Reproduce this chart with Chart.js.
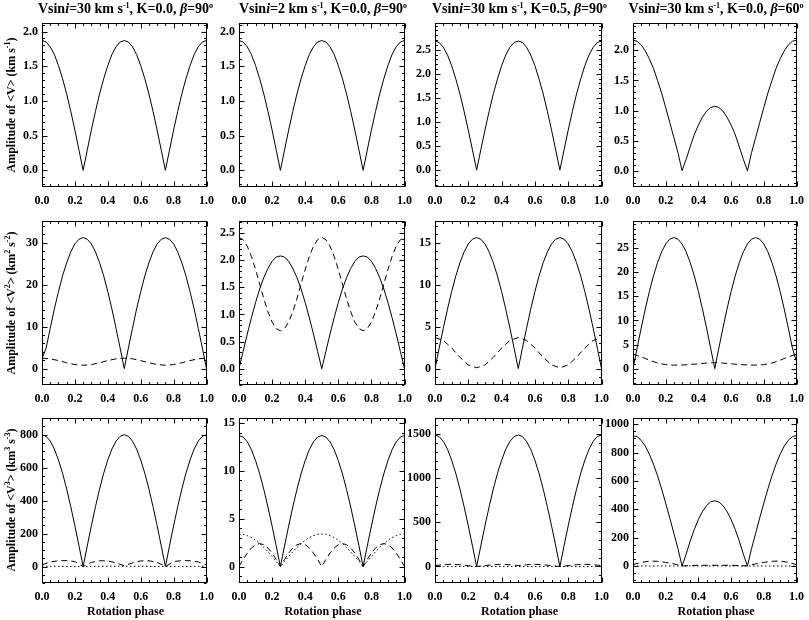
<!DOCTYPE html>
<html lang="en">
<head>
  <meta charset="UTF-8">
  <title>Amplitude of moments vs rotation phase</title>
  <script src="https://cdn.jsdelivr.net/npm/chart.js"></script>
  <style>
    body {
      margin: 0;
      background: #ffffff;
      font-family: 'Liberation Serif', 'DejaVu Serif', serif;
      color: #000000;
    }

    #fig {
      position: relative;
      width: 809px;
      height: 620px;
      overflow: hidden;
    }

    #fig canvas { position: absolute; }

    .title {
      position: absolute;
      top: 0;
      width: 240px;
      line-height: 18px;
      text-align: center;
      font-weight: bold;
      font-size: 14px;
      white-space: nowrap;
    }

    .ylab {
      position: absolute;
      width: 200px;
      line-height: 14px;
      text-align: center;
      font-weight: bold;
      font-size: 12px;
      white-space: nowrap;
      transform: rotate(-90deg);
    }

    .xlab {
      position: absolute;
      top: 604px;
      width: 170px;
      line-height: 14px;
      text-align: center;
      font-weight: bold;
      font-size: 12px;
    }

    sup {
      font-size: 8px;
      vertical-align: 0;
      position: relative;
      top: -5px;
    }
  </style>
</head>
<body>

  <div id="fig"></div>

  <script>
    // phase grids
    const phaseFine = [0, 0.025, 0.05, 0.075, 0.1, 0.125, 0.15, 0.175, 0.2, 0.225, 0.25, 0.275, 0.3, 0.325, 0.35, 0.375, 0.4, 0.425, 0.45, 0.475, 0.5,
      0.525, 0.55, 0.575, 0.6, 0.625, 0.65, 0.675, 0.7, 0.725, 0.75, 0.775, 0.8, 0.825, 0.85, 0.875, 0.9, 0.925, 0.95, 0.975, 1];
    const phaseCoarse = [0, 0.05, 0.1, 0.15, 0.2, 0.25, 0.3, 0.35, 0.4, 0.45, 0.5, 0.55, 0.6, 0.65, 0.7, 0.75, 0.8, 0.85, 0.9, 0.95, 1];
    const phaseTicks = [0, 0.2, 0.4, 0.6, 0.8, 1.0];

    // row 1: <V>
    const v1Solid = [1.87, 1.85, 1.78, 1.67, 1.51, 1.32, 1.10, 0.85, 0.58, 0.29, 0.00, 0.29, 0.58, 0.85, 1.10, 1.32, 1.51, 1.67, 1.78, 1.85, 1.87,
      1.85, 1.78, 1.67, 1.51, 1.32, 1.10, 0.85, 0.58, 0.29, 0.00, 0.29, 0.58, 0.85, 1.10, 1.32, 1.51, 1.67, 1.78, 1.85, 1.87];
    const v2Solid = [1.87, 1.85, 1.78, 1.67, 1.51, 1.32, 1.10, 0.85, 0.58, 0.29, 0.00, 0.29, 0.58, 0.85, 1.10, 1.32, 1.51, 1.67, 1.78, 1.85, 1.87,
      1.85, 1.78, 1.67, 1.51, 1.32, 1.10, 0.85, 0.58, 0.29, 0.00, 0.29, 0.58, 0.85, 1.10, 1.32, 1.51, 1.67, 1.78, 1.85, 1.87];
    const v3Solid = [2.68, 2.65, 2.55, 2.39, 2.17, 1.89, 1.58, 1.22, 0.83, 0.42, 0.00, 0.42, 0.83, 1.22, 1.58, 1.89, 2.17, 2.39, 2.55, 2.65, 2.68,
      2.65, 2.55, 2.39, 2.17, 1.89, 1.58, 1.22, 0.83, 0.42, 0.00, 0.42, 0.83, 1.22, 1.58, 1.89, 2.17, 2.39, 2.55, 2.65, 2.68];
    const v4Solid = [2.17, 2.15, 2.09, 1.99, 1.86, 1.70, 1.50, 1.29, 1.05, 0.80, 0.55, 0.30, 0.00, 0.19, 0.40, 0.60, 0.76, 0.89, 0.99, 1.05, 1.07,
      1.05, 0.99, 0.89, 0.76, 0.60, 0.40, 0.19, 0.00, 0.30, 0.55, 0.80, 1.05, 1.29, 1.50, 1.70, 1.86, 1.99, 2.09, 2.15, 2.17];

    // row 2: <V^2>
    const w1Solid = [2.4, 4.9, 9.6, 14.2, 18.3, 22.1, 25.2, 27.8, 29.7, 30.8, 31.2, 30.8, 29.7, 27.8, 25.2, 22.1, 18.3, 14.2, 9.6, 4.9, 0.0,
      4.9, 9.6, 14.2, 18.3, 22.1, 25.2, 27.8, 29.7, 30.8, 31.2, 30.8, 29.7, 27.8, 25.2, 22.1, 18.3, 14.2, 9.6, 4.9, 0.0];
    const w1Dash = [2.5, 2.34, 1.91, 1.39, 0.96, 0.80, 0.96, 1.39, 1.91, 2.34, 2.5, 2.34, 1.91, 1.39, 0.96, 0.80, 0.96, 1.39, 1.91, 2.34, 2.5];
    const w2Solid = [0.00, 0.32, 0.64, 0.94, 1.22, 1.47, 1.68, 1.85, 1.98, 2.06, 2.08, 2.06, 1.98, 1.85, 1.68, 1.47, 1.22, 0.94, 0.64, 0.32, 0.00,
      0.32, 0.64, 0.94, 1.22, 1.47, 1.68, 1.85, 1.98, 2.06, 2.08, 2.06, 1.98, 1.85, 1.68, 1.47, 1.22, 0.94, 0.64, 0.32, 0.00];
    const w2Dash = [2.42, 2.38, 2.26, 2.07, 1.83, 1.56, 1.29, 1.05, 0.86, 0.74, 0.70, 0.74, 0.86, 1.05, 1.29, 1.56, 1.83, 2.07, 2.26, 2.38, 2.42,
      2.38, 2.26, 2.07, 1.83, 1.56, 1.29, 1.05, 0.86, 0.74, 0.70, 0.74, 0.86, 1.05, 1.29, 1.56, 1.83, 2.07, 2.26, 2.38, 2.42];
    const w3Solid = [0.0, 2.44, 4.82, 7.08, 9.17, 11.03, 12.62, 13.90, 14.84, 15.41, 15.6, 15.41, 14.84, 13.90, 12.62, 11.03, 9.17, 7.08, 4.82, 2.44, 0.0,
      2.44, 4.82, 7.08, 9.17, 11.03, 12.62, 13.90, 14.84, 15.41, 15.6, 15.41, 14.84, 13.90, 12.62, 11.03, 9.17, 7.08, 4.82, 2.44, 0.0];
    const w3Dash = [3.70, 3.36, 2.46, 1.34, 0.44, 0.10, 0.44, 1.34, 2.46, 3.36, 3.70, 3.36, 2.46, 1.34, 0.44, 0.10, 0.44, 1.34, 2.46, 3.36, 3.70];
    const w4Solid = [0.0, 4.25, 8.41, 12.35, 16.0, 19.23, 22.0, 24.24, 25.87, 26.87, 27.2, 26.87, 25.87, 24.24, 22.0, 19.23, 16.0, 12.35, 8.41, 4.25, 0.0,
      4.25, 8.41, 12.35, 16.0, 19.23, 22.0, 24.24, 25.87, 26.87, 27.2, 26.87, 25.87, 24.24, 22.0, 19.23, 16.0, 12.35, 8.41, 4.25, 1.5];
    const w4Dash = [3.0, 2.45, 1.75, 1.15, 0.82, 0.72, 0.75, 0.85, 1.0, 1.15, 1.25, 1.15, 1.0, 0.85, 0.75, 0.72, 0.82, 1.15, 1.75, 2.45, 3.0];

    // row 3: <V^3>
    const u1Solid = [800, 790, 761, 713, 647, 566, 470, 363, 247, 125, 0, 125, 247, 363, 470, 566, 647, 713, 761, 790, 800,
      790, 761, 713, 647, 566, 470, 363, 247, 125, 0, 125, 247, 363, 470, 566, 647, 713, 761, 790, 800];
    const u1Dash = [10, 28, 35, 36, 30, 0, 25, 35, 34, 22, 5, 22, 34, 35, 25, 0, 30, 36, 35, 28, 10];
    const u1Dot = [2, 1, 1, 0, 0, 0, 0, 1, 2, 2, 2, 2, 2, 1, 0, 0, 0, 0, 1, 1, 2];
    const u2Solid = [13.7, 13.53, 13.03, 12.21, 11.08, 9.69, 8.05, 6.22, 4.23, 2.14, 0.0, 2.14, 4.23, 6.22, 8.05, 9.69, 11.08, 12.21, 13.03, 13.53, 13.7,
      13.53, 13.03, 12.21, 11.08, 9.69, 8.05, 6.22, 4.23, 2.14, 0.0, 2.14, 4.23, 6.22, 8.05, 9.69, 11.08, 12.21, 13.03, 13.53, 13.7];
    const u2Dash = [0.0, 0.74, 1.41, 1.94, 2.28, 2.40, 2.28, 1.94, 1.41, 0.74, 0.0, 0.74, 1.41, 1.94, 2.28, 2.40, 2.28, 1.94, 1.41, 0.74, 0.0,
      0.74, 1.41, 1.94, 2.28, 2.40, 2.28, 1.94, 1.41, 0.74, 0.0, 0.74, 1.41, 1.94, 2.28, 2.40, 2.28, 1.94, 1.41, 0.74, 0.0];
    const u2Dot = [3.40, 3.36, 3.23, 3.03, 2.75, 2.40, 2.00, 1.54, 1.05, 0.53, 0.00, 0.53, 1.05, 1.54, 2.00, 2.40, 2.75, 3.03, 3.23, 3.36, 3.40,
      3.36, 3.23, 3.03, 2.75, 2.40, 2.00, 1.54, 1.05, 0.53, 0.00, 0.53, 1.05, 1.54, 2.00, 2.40, 2.75, 3.03, 3.23, 3.36, 3.40];
    const u3Solid = [1490, 1472, 1417, 1328, 1205, 1054, 876, 676, 460, 233, 0, 233, 460, 676, 876, 1054, 1205, 1328, 1417, 1472, 1490,
      1472, 1417, 1328, 1205, 1054, 876, 676, 460, 233, 0, 233, 460, 676, 876, 1054, 1205, 1328, 1417, 1472, 1490];
    const u3Dash = [10, 20, 25, 20, 10, 0, 10, 20, 25, 20, 10, 20, 25, 20, 10, 0, 10, 20, 25, 20, 10];
    const u3Dot = [0, 0, 0, 0, 0, 0, 0, 0, 0, 0, 0, 0, 0, 0, 0, 0, 0, 0, 0, 0, 0];
    const u4Solid = [920, 912, 886, 845, 788, 718, 636, 543, 443, 338, 230, 122, 0, 83, 176, 258, 328, 385, 426, 452, 460,
      452, 426, 385, 328, 258, 176, 83, 0, 122, 230, 338, 443, 543, 636, 718, 788, 845, 886, 912, 920];
    const u4Dash = [10, 25, 35, 33, 25, 15, 0, 3, 5, 5, 5, 5, 5, 3, 0, 15, 25, 33, 35, 25, 10];
    const u4Dot = [0, 0, 0, 0, 0, 0, 0, 0, 0, 0, 0, 0, 0, 0, 0, 0, 0, 0, 0, 0, 0];

    // y tick labels, as printed on each panel
    const ticksV = [0, 0.5, 1.0, 1.5, 2.0];
    const ticksV3 = [0, 0.5, 1.0, 1.5, 2.0, 2.5];
    const ticksW1 = [0, 10, 20, 30];
    const ticksW2 = [0, 0.5, 1.0, 1.5, 2.0, 2.5];
    const ticksW3 = [0, 5, 10, 15];
    const ticksW4 = [0, 5, 10, 15, 20, 25];
    const ticksU1 = [0, 200, 400, 600, 800];
    const ticksU2 = [0, 5, 10, 15];
    const ticksU3 = [0, 500, 1000, 1500];
    const ticksU4 = [0, 200, 400, 600, 800, 1000];

    // panel titles and axis text
    const colTitles = [
      'Vsin<i>i</i>=30 km s<sup>-1</sup>, K=0.0, <i>&beta;</i>=90<sup>o</sup>',
      'Vsin<i>i</i>=2 km s<sup>-1</sup>, K=0.0, <i>&beta;</i>=90<sup>o</sup>',
      'Vsin<i>i</i>=30 km s<sup>-1</sup>, K=0.5, <i>&beta;</i>=90<sup>o</sup>',
      'Vsin<i>i</i>=30 km s<sup>-1</sup>, K=0.0, <i>&beta;</i>=60<sup>o</sup>'
    ];
    const rowTitles = [
      'Amplitude of &lt;V&gt; (km s<sup>-1</sup>)',
      'Amplitude of &lt;V<sup>2</sup>&gt; (km<sup>2</sup> s<sup>-2</sup>)',
      'Amplitude of &lt;V<sup>3</sup>&gt; (km<sup>3</sup> s<sup>-3</sup>)'
    ];
    const xTitle = 'Rotation phase';

    // plot box edges in page pixels
    const cols = [[42, 209], [239, 407], [435, 604], [633, 799]];
    const rows = [[20, 187], [218, 385], [415, 583]];
    const PAD_L = 40, PAD_R = 12, PAD_T = 8, PAD_B = 26;

    const SOLID = [], DASH = [6, 4], DOT = [1.5, 2.5];

    const panels = [
      { ymin: -0.24, ymax: 2.12, ticks: ticksV, dec: 1, minor: 5, lines: [[phaseFine, v1Solid, SOLID]] },
      { ymin: -0.24, ymax: 2.12, ticks: ticksV, dec: 1, minor: 5, lines: [[phaseFine, v2Solid, SOLID]] },
      { ymin: -0.35, ymax: 3.05, ticks: ticksV3, dec: 1, minor: 5, lines: [[phaseFine, v3Solid, SOLID]] },
      { ymin: -0.27, ymax: 2.45, ticks: ticksV, dec: 1, minor: 5, lines: [[phaseFine, v4Solid, SOLID]] },

      { ymin: -3.9, ymax: 35.1, ticks: ticksW1, dec: 0, minor: 5, lines: [[phaseFine, w1Solid, SOLID], [phaseCoarse, w1Dash, DASH]] },
      { ymin: -0.30, ymax: 2.72, ticks: ticksW2, dec: 1, minor: 5, lines: [[phaseFine, w2Solid, SOLID], [phaseFine, w2Dash, DASH]] },
      { ymin: -1.95, ymax: 17.55, ticks: ticksW3, dec: 0, minor: 5, lines: [[phaseFine, w3Solid, SOLID], [phaseCoarse, w3Dash, DASH]] },
      { ymin: -3.4, ymax: 30.6, ticks: ticksW4, dec: 0, minor: 5, lines: [[phaseFine, w4Solid, SOLID], [phaseCoarse, w4Dash, DASH]] },

      { ymin: -100, ymax: 900, ticks: ticksU1, dec: 0, minor: 4, lines: [[phaseFine, u1Solid, SOLID], [phaseCoarse, u1Dash, DASH], [phaseCoarse, u1Dot, DOT]] },
      { ymin: -1.72, ymax: 15.5, ticks: ticksU2, dec: 0, minor: 5, lines: [[phaseFine, u2Solid, SOLID], [phaseFine, u2Dash, DASH], [phaseFine, u2Dot, DOT]] },
      { ymin: -187, ymax: 1680, ticks: ticksU3, dec: 0, minor: 5, lines: [[phaseFine, u3Solid, SOLID], [phaseCoarse, u3Dash, DASH], [phaseCoarse, u3Dot, DOT]] },
      { ymin: -120, ymax: 1042, ticks: ticksU4, dec: 0, minor: 4, lines: [[phaseFine, u4Solid, SOLID], [phaseCoarse, u4Dash, DASH], [phaseCoarse, u4Dot, DOT]] }
    ];

    const tickFont = { family: "'Liberation Serif', serif", size: 12, weight: 'bold' };

    // box with inward major/minor ticks on all four sides, like the original plots
    const framePlugin = {
      id: 'frame',
      afterDraw(chart, args, opts) {
        const { ctx, chartArea: a, scales } = chart;
        const L = Math.round(a.left) + 0.5, R = Math.round(a.right) - 0.5;
        const T = Math.round(a.top) + 0.5, B = Math.round(a.bottom) - 0.5;
        ctx.save();
        ctx.strokeStyle = '#000';
        ctx.lineWidth = 1;
        ctx.strokeRect(L, T, R - L, B - T);

        const marks = (scale, major, minorCount) => {
          const step = major[1] - major[0];
          const sub = step / minorCount;
          const out = [];
          const start = Math.ceil((scale.min - 1e-9) / sub);
          for (let k = start; k * sub <= scale.max + 1e-9; k++) {
            const v = k * sub;
            const isMajor = major.some(m => Math.abs(m - v) < sub * 1e-3);
            out.push([Math.round(scale.getPixelForValue(v)) + 0.5, isMajor ? 5 : 2.5]);
          }
          return out;
        };

        ctx.beginPath();
        marks(scales.x, phaseTicks, 4).forEach(([p, len]) => {
          ctx.moveTo(p, B); ctx.lineTo(p, B - len);
          ctx.moveTo(p, T); ctx.lineTo(p, T + len);
        });
        marks(scales.y, opts.ticks, opts.minor).forEach(([p, len]) => {
          ctx.moveTo(L, p); ctx.lineTo(L + len, p);
          ctx.moveTo(R, p); ctx.lineTo(R - len, p);
        });
        ctx.stroke();
        ctx.restore();
      }
    };

    const fig = document.getElementById('fig');

    panels.forEach((p, i) => {
      const c = cols[i % 4], r = rows[Math.floor(i / 4)];
      const W = c[1] - c[0] + PAD_L + PAD_R;
      const H = r[1] - r[0] + PAD_T + PAD_B;
      const cv = document.createElement('canvas');
      cv.width = W;
      cv.height = H;
      cv.style.width = W + 'px';
      cv.style.height = H + 'px';
      cv.style.left = (c[0] - PAD_L) + 'px';
      cv.style.top = (r[0] - PAD_T) + 'px';
      fig.appendChild(cv);

      new Chart(cv, {
        type: 'line',
        data: {
          datasets: p.lines.map(([xs, ys, dash]) => ({
            data: xs.map((x, k) => ({ x: x, y: ys[k] })),
            borderColor: '#000000',
            borderWidth: 1,
            borderDash: dash,
            pointRadius: 0,
            tension: 0,
            fill: false
          }))
        },
        options: {
          responsive: false,
          animation: false,
          events: [],
          layout: { padding: { left: 0, right: PAD_R, top: PAD_T, bottom: 0 } },
          plugins: {
            legend: { display: false },
            tooltip: { enabled: false },
            frame: { ticks: p.ticks, minor: p.minor }
          },
          scales: {
            x: {
              type: 'linear',
              min: 0,
              max: 1,
              afterFit: s => { s.height = PAD_B; },
              afterBuildTicks: s => { s.ticks = phaseTicks.map(v => ({ value: v })); },
              grid: { display: false, drawTicks: false },
              border: { display: false },
              ticks: {
                padding: 7,
                maxRotation: 0,
                autoSkip: false,
                color: '#000000',
                font: tickFont,
                callback: v => v.toFixed(1)
              }
            },
            y: {
              type: 'linear',
              min: p.ymin,
              max: p.ymax,
              afterFit: s => { s.width = PAD_L; },
              afterBuildTicks: s => { s.ticks = p.ticks.map(v => ({ value: v })); },
              grid: { display: false, drawTicks: false },
              border: { display: false },
              ticks: {
                padding: 4,
                autoSkip: false,
                color: '#000000',
                font: tickFont,
                callback: v => v.toFixed(p.dec)
              }
            }
          }
        },
        plugins: [framePlugin]
      });
    });

    // column titles
    colTitles.forEach((t, i) => {
      const d = document.createElement('div');
      d.className = 'title';
      d.innerHTML = t;
      d.style.left = ((cols[i][0] + cols[i][1]) / 2 - 120) + 'px';
      fig.appendChild(d);
    });

    // rotated y titles for the first column
    rowTitles.forEach((t, j) => {
      const d = document.createElement('div');
      d.className = 'ylab';
      d.innerHTML = t;
      d.style.left = (12 - 100) + 'px';
      d.style.top = ((rows[j][0] + rows[j][1]) / 2 - 7) + 'px';
      fig.appendChild(d);
    });

    // x titles under the bottom row
    cols.forEach(c => {
      const d = document.createElement('div');
      d.className = 'xlab';
      d.textContent = xTitle;
      d.style.left = ((c[0] + c[1]) / 2 - 85) + 'px';
      fig.appendChild(d);
    });
  </script>

</body>
</html>
